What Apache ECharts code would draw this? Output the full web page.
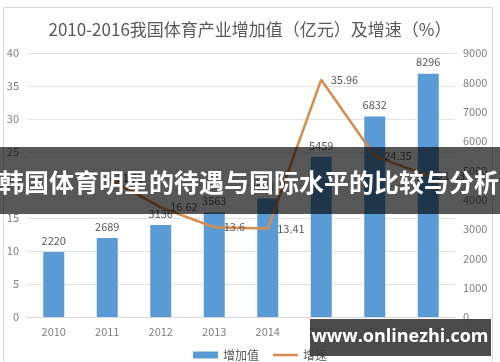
<!DOCTYPE html>
<html>
<head>
<meta charset="utf-8">
<script src="https://cdn.jsdelivr.net/npm/echarts@6/dist/echarts.min.js"></script>
<style>html,body{margin:0;padding:0;background:#fff;}#c{width:500px;height:362px;}</style>
</head>
<body>
<div id="c"></div>
<script>
const years = ['2010','2011','2012','2013','2014','2015','2016','2017'];
const addedValue = [2220, 2689, 3136, 3563, 4041, 5459, 6832, 8296];
const growthRate = [null, 21.13, 16.62, 13.6, 13.41, 35.96, 24.35, 21.43];
const titleText = '2010-2016我国体育产业增加值（亿元）及增速（%）';
const bannerText = '韩国体育明星的待遇与国际水平的比较与分析';
const watermarkText = 'www.onlinezhi.com';

const chart = echarts.init(document.getElementById('c'), null, {renderer: 'canvas'});
const font = '"Noto Sans CJK SC", "Open Sans", sans-serif';
chart.setOption({
  animation: false,
  backgroundColor: '#fff',
  title: {
    text: titleText, left: 'center', top: 16,
    textStyle: {color: '#595959', fontSize: 17, fontWeight: 'normal', fontFamily: font}
  },
  legend: {
    bottom: -4, left: 188, itemGap: 14, itemWidth: 25, itemHeight: 7,
    textStyle: {color: '#595959', fontSize: 12, fontFamily: font},
    data: [
      {name: '增加值', icon: 'rect'},
      {name: '增速', icon: 'path://M0,0 L25,0 L25,2.5 L0,2.5 Z', itemStyle: {color: '#d98b4c', opacity: 1}}
    ]
  },
  grid: {left: 27, right: 45, top: 53, bottom: 45, containLabel: false},
  xAxis: {
    type: 'category', data: years,
    axisLine: {lineStyle: {color: '#d9d9d9'}},
    axisTick: {show: false},
    axisLabel: {color: '#7f7f7f', fontSize: 11, margin: 9, fontFamily: font}
  },
  yAxis: [
    {
      type: 'value', min: 0, max: 40, interval: 5,
      axisLine: {show: false}, axisTick: {show: false},
      axisLabel: {color: '#7f7f7f', fontSize: 11, margin: 8, fontFamily: font},
      splitLine: {lineStyle: {color: '#e3e3e3'}}
    },
    {
      type: 'value', min: 0, max: 9000, interval: 1000, position: 'right',
      axisLine: {show: false}, axisTick: {show: false},
      axisLabel: {color: '#7f7f7f', fontSize: 11, margin: 8, fontFamily: font, formatter: v => String(v)},
      splitLine: {show: false}
    }
  ],
  series: [
    {
      name: '增加值', type: 'bar', yAxisIndex: 1, data: addedValue, barWidth: 21,
      itemStyle: {color: '#5b9bd5'}, z: 2,
      label: {show: true, position: 'top', distance: 6, color: '#595959', fontSize: 11, fontFamily: font}
    },
    {
      name: '增速', type: 'line', yAxisIndex: 0, data: growthRate,
      symbol: 'circle', symbolSize: 1, showSymbol: true, z: 3,
      lineStyle: {color: '#d98b4c', width: 2.5},
      itemStyle: {color: '#d98b4c'},
      label: {show: true, position: 'right', distance: 9, color: '#595959', fontSize: 11, fontFamily: font}
    }
  ],
  graphic: [
    {type: 'rect', shape: {x: 3.5, y: 7.5, width: 489, height: 360}, style: {fill: 'none', stroke: '#d9d9d9', lineWidth: 1}, z: 0, silent: true},
    {type: 'rect', shape: {x: 0, y: 147, width: 500, height: 67}, style: {fill: 'rgba(0,0,0,0.66)'}, z: 100},
    {type: 'text', x: 249, y: 182, style: {text: bannerText, fill: '#fff', font: 'bold 25px "Noto Sans CJK SC", sans-serif', textAlign: 'center', textVerticalAlign: 'middle'}, z: 101},
    {type: 'rect', shape: {x: 310, y: 319, width: 181, height: 37}, style: {fill: 'rgba(60,60,60,0.92)'}, z: 100},
    {type: 'text', x: 400, y: 337, style: {text: watermarkText, fill: '#fff', font: 'bold 18px "Open Sans", sans-serif', textAlign: 'center', textVerticalAlign: 'middle'}, z: 101}
  ]
});
</script>
</body>
</html>
